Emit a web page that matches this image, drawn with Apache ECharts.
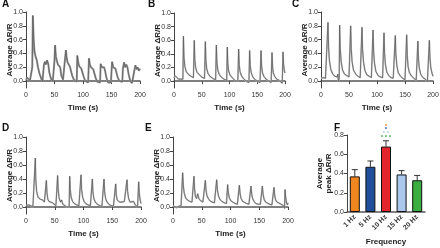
<!doctype html>
<html>
<head>
<meta charset="utf-8">
<title>Average dR/R traces</title>
<script src="https://cdn.jsdelivr.net/npm/echarts@6/dist/echarts.min.js"></script>
<style>
  html, body { margin: 0; padding: 0; background: #fff; }
  #main { width: 440px; height: 248px; }
</style>
</head>
<body>
<div id="main"></div>
<script>
// traces: [time (s), average dR/R]
var traceA = [
  [0,0.02],[2,0.05],[4,0.04],[7,0.01],[10,0.0],[11,0.2],[12,0.95],[13.5,0.6],[15,0.42],[17,0.35],[19,0.3],[21,0.2],[24,0.1],[27,0.03],[29,0.0],
  [30,0.1],[31.5,0.24],[33,0.28],[35,0.24],[37,0.3],[39,0.25],[41,0.12],[44,0.03],[47,0.0],[49,0.0],
  [50,0.3],[51,0.52],[52.5,0.35],[54,0.3],[56,0.24],[58,0.26],[60,0.2],[62,0.08],[65,0.02],[68,0.0],
  [70,0.45],[71.5,0.33],[73,0.27],[75,0.25],[77,0.21],[79,0.22],[81,0.08],[84,0.02],[87,0.0],[89,-0.01],
  [90,0.37],[91.5,0.28],[93,0.22],[95,0.23],[97,0.18],[99,0.2],[101,0.07],[104,0.0],[107,-0.02],[109,-0.02],
  [110.5,0.33],[112,0.24],[114,0.2],[116,0.22],[118,0.17],[120,0.16],[122,0.05],[125,-0.01],[128,-0.03],[130,-0.02],
  [131,0.25],[133,0.2],[135,0.18],[137,0.2],[139,0.14],[141,0.05],[144,-0.02],[147,-0.03],[149,-0.02],
  [151,0.28],[153,0.2],[155,0.22],[157,0.18],[159,0.16],[161,0.05],[164,0.0],[167,-0.02],[169,-0.01],
  [170,0.18],[172,0.27],[174,0.2],[176,0.24],[178,0.2],[180,0.1],[183,0.0],[186,-0.03],[188,-0.02],
  [190,0.15],[192,0.23],[194,0.17],[196,0.2],[198,0.15],[200,0.18]
];
var traceB = [
  [0,0.05],[2,0.08],[4,0.06],[8,0.03],[12,0.03],[16,0.03],
  [17,0.66],[18,0.35],[19.5,0.22],[22,0.14],[26,0.1],[31,0.07],[35,0.05],
  [36.5,0.6],[37.5,0.32],[39,0.2],[41.5,0.13],[45,0.1],[50,0.06],[55,0.04],
  [56.5,0.58],[57.5,0.3],[59,0.18],[61.5,0.11],[65,0.07],[70,0.04],[75,0.02],
  [76.3,0.53],[77.3,0.28],[79,0.16],[81.5,0.1],[85,0.06],[90,0.03],[95,0.01],
  [96,0.5],[97,0.26],[98.5,0.15],[101,0.09],[105,0.05],[110,0.01],[115,0.0],
  [116.5,0.47],[117.5,0.24],[119,0.14],[121.5,0.08],[125,0.04],[130,0.0],[135,-0.02],
  [136.3,0.45],[137.3,0.23],[139,0.13],[141.5,0.07],[145,0.03],[150,0.0],[155,-0.02],
  [156.8,0.45],[157.8,0.22],[159.5,0.12],[162,0.07],[166,0.03],[171,0.0],[175,-0.02],
  [176.6,0.42],[177.6,0.21],[179,0.12],[181.5,0.07],[185,0.03],[190,0.01],[195,-0.03],
  [196.4,0.43],[197.4,0.25],[199,0.15],[200,0.12]
];
var traceC = [
  [0,0.04],[4,0.05],[8,0.04],[11,0.03],
  [12.5,0.85],[13.5,0.5],[15,0.3],[17.5,0.17],[21,0.1],[25,0.07],[29,0.06],[30,0.1],[31,0.0],[32.5,0.04],
  [33.3,0.81],[34.3,0.48],[36,0.28],[38.5,0.16],[42,0.1],[46,0.08],[50,0.06],[52,0.05],
  [53,0.8],[54,0.47],[55.5,0.28],[58,0.16],[62,0.1],[66,0.07],[70,0.05],[72,0.04],
  [73.2,0.78],[74.2,0.46],[76,0.27],[78.5,0.15],[82,0.09],[86,0.07],[90,0.05],[92,0.04],
  [92.9,0.74],[94,0.43],[95.5,0.26],[98,0.14],[102,0.08],[106,0.06],[110,0.05],[111.5,0.04],
  [112.5,0.7],[113.5,0.41],[115,0.24],[117.5,0.13],[121,0.08],[125,0.05],[129,0.04],[131.5,0.03],
  [132.7,0.66],[133.7,0.39],[135.5,0.22],[138,0.12],[142,0.07],[146,0.04],[150,0.02],[152,0.02],
  [153,0.67],[154,0.38],[155.5,0.21],[158,0.12],[162,0.07],[166,0.04],[170,0.01],[172,0.0],
  [173,0.58],[174,0.33],[175.5,0.19],[178,0.1],[182,0.05],[186,0.03],[190,-0.01],[192.5,-0.02],
  [193.5,0.59],[194.5,0.35],[196,0.2],[198,0.12],[200,0.07]
];
var traceD = [
  [0,0.02],[4,0.03],[8,0.02],[12,0.0],[15,0.0],
  [16.2,0.7],[17,0.4],[18.5,0.22],[21,0.14],[25,0.11],[29,0.1],[32,0.07],[34.5,0.05],
  [35.4,0.38],[36.5,0.2],[38,0.11],[40,0.08],[43,0.09],[46,0.06],[49,0.05],[52,0.02],[54,0.0],
  [55,0.45],[56,0.25],[57.5,0.13],[60,0.07],[62,0.1],[64,0.04],[67,0.03],[71,0.0],[75,0.0],
  [76,0.44],[77,0.24],[78.5,0.14],[81,0.08],[84,0.05],[88,0.03],[92,0.02],[95,0.01],
  [95.7,0.46],[96.7,0.25],[98.5,0.14],[101,0.08],[104,0.05],[108,0.03],[112,0.02],[114.5,0.02],
  [115.4,0.4],[116.4,0.22],[118,0.12],[120.5,0.07],[124,0.04],[128,0.02],[132,0.01],[135,0.01],
  [135.7,0.4],[136.7,0.22],[138.5,0.12],[141,0.07],[144,0.04],[148,0.02],[152,0.01],[155,0.0],
  [156,0.33],[157,0.18],[158.5,0.1],[160,0.08],[163,0.07],[167,0.07],[171,0.08],[174,0.06],
  [175.7,0.39],[176.7,0.22],[178.5,0.12],[181,0.07],[184,0.05],[187,0.08],[190,0.03],[194,0.0],[195,0.0],
  [196,0.36],[197,0.2],[198.5,0.1],[200,0.05]
];
var traceE = [
  [0,0.02],[3,0.0],[6,-0.01],[10,0.01],[14,0.02],[16,0.04],
  [16.8,0.49],[18,0.3],[19.5,0.2],[22,0.13],[25,0.1],[29,0.08],[33,0.07],[35.5,0.08],
  [36.5,0.44],[37.5,0.26],[39,0.15],[41,0.12],[43,0.19],[45,0.12],[48,0.09],[52,0.07],[55,0.06],
  [56.2,0.38],[57.5,0.24],[59,0.16],[61.5,0.12],[64,0.09],[68,0.07],[72,0.06],[75,0.06],
  [76,0.39],[77.3,0.24],[79,0.16],[81.5,0.11],[85,0.08],[89,0.06],[93,0.05],[94.5,0.05],
  [95,0.32],[96.3,0.2],[98,0.13],[100.5,0.09],[104,0.07],[108,0.05],[112,0.04],[114.5,0.04],
  [115.4,0.31],[116.7,0.19],[118.5,0.12],[121,0.08],[124,0.06],[128,0.05],[132,0.04],[135,0.03],
  [135.7,0.3],[137,0.18],[138.5,0.12],[141,0.08],[144,0.05],[148,0.04],[152,0.04],[154.5,0.03],
  [155.4,0.3],[156.7,0.18],[158.5,0.11],[161,0.07],[164,0.05],[168,0.04],[172,0.03],[175,0.03],
  [175.7,0.28],[177,0.16],[178.5,0.1],[181,0.07],[184,0.05],[188,0.04],[192,0.02],[194,-0.02],
  [194.8,0.25],[196,0.14],[197.5,0.06],[199,0.03],[200,0.06]
];

// panel F
var freqs = ['1 Hz', '5 Hz', '10 Hz', '15 Hz', '20 Hz'];
var peakMean = [0.37, 0.47, 0.68, 0.39, 0.33];
var peakErr = [0.07, 0.06, 0.06, 0.04, 0.05];
var barColors = ['#f0861f', '#1f4e9a', '#e3262b', '#a9c8ec', '#3aae3f'];
// significance marks over 10 Hz
var starText = ['*', '*', '* *', '* * *'];
var starLevel = [0.885, 0.855, 0.815, 0.78];
var starColor = ['#f0861f', '#1f4e9a', '#a9c8ec', '#3aae3f'];

var ratioTicks = [0, 0.2, 0.4, 0.6, 0.8, 1.0];

var FONT = 'Liberation Sans';
var AX = '#444';

var panels = [
  { label: 'A', data: traceA, grid: { left: 26, top: 12, width: 114, height: 76 }, band: 2, bandColor: '#999' },
  { label: 'B', data: traceB, grid: { left: 174, top: 13, width: 111, height: 75 }, band: 1.6, bandColor: '#bbb' },
  { label: 'C', data: traceC, grid: { left: 321, top: 12, width: 112, height: 76 }, band: 1.6, bandColor: '#bbb' },
  { label: 'D', data: traceD, grid: { left: 26, top: 137, width: 115, height: 77 }, band: 1.6, bandColor: '#bbb' },
  { label: 'E', data: traceE, grid: { left: 173, top: 137, width: 115, height: 77 }, band: 1.6, bandColor: '#bbb' }
];

var grids = [], xAxes = [], yAxes = [], series = [];

panels.forEach(function (p, i) {
  grids.push(Object.assign({ outerBoundsMode: 'none' }, p.grid));
  xAxes.push({
    gridIndex: i, type: 'value', min: 0, max: 200, interval: 50,
    name: 'Time (s)', nameLocation: 'middle', nameGap: 16, nameMoveOverlap: false,
    nameTextStyle: { fontFamily: FONT, fontSize: 8, fontWeight: 'bold', color: '#222' },
    axisLine: { lineStyle: { color: '#555', width: 1.5 } },
    axisTick: { length: 3, lineStyle: { color: AX } },
    axisLabel: { fontFamily: FONT, fontSize: 7, color: '#333', margin: 4 },
    splitLine: { show: false }
  });
  yAxes.push({
    gridIndex: i, type: 'value', min: -0.1, max: 1.0,
    name: 'Average ΔR/R', nameLocation: 'middle', nameGap: 12, nameMoveOverlap: false,
    nameTextStyle: { fontFamily: FONT, fontSize: 8, fontWeight: 'bold', color: '#222' },
    axisLine: { show: true, lineStyle: { color: AX } },
    axisTick: { show: true, length: 3, customValues: ratioTicks, lineStyle: { color: AX } },
    axisLabel: { fontFamily: FONT, fontSize: 7, color: '#333', margin: 3,
      customValues: ratioTicks, formatter: function (v) { return v.toFixed(1); } },
    splitLine: { show: false }
  });
  // grey SEM envelope under the mean trace
  series.push({
    type: 'line', xAxisIndex: i, yAxisIndex: i, data: p.data,
    showSymbol: false, silent: true,
    lineStyle: { color: p.bandColor, width: p.band }
  });
  series.push({
    type: 'line', xAxisIndex: i, yAxisIndex: i, data: p.data,
    showSymbol: false,
    lineStyle: { color: '#555', width: 0.7 }
  });
});

// bar panel
var fi = panels.length;
grids.push({ left: 347, top: 135, width: 78, height: 77, outerBoundsMode: 'none' });
xAxes.push({
  gridIndex: fi, type: 'category', data: freqs,
  name: 'Frequency', nameLocation: 'middle', nameGap: 26, nameMoveOverlap: false,
  nameTextStyle: { fontFamily: FONT, fontSize: 8, fontWeight: 'bold', color: '#222' },
  axisLine: { lineStyle: { color: '#555', width: 1.5 } },
  axisTick: { alignWithLabel: true, length: 3, lineStyle: { color: AX } },
  axisLabel: { fontFamily: FONT, fontSize: 7, fontWeight: 'bold', color: '#333', rotate: 45, margin: 4 }
});
yAxes.push({
  gridIndex: fi, type: 'value', min: 0, max: 0.8, interval: 0.2,
  name: 'Average\npeak ΔR/R', nameLocation: 'middle', nameGap: 14, nameMoveOverlap: false,
  nameTextStyle: { fontFamily: FONT, fontSize: 8, fontWeight: 'bold', color: '#222', lineHeight: 9 },
  axisLine: { show: true, lineStyle: { color: AX } },
  axisTick: { show: true, length: 3, lineStyle: { color: AX } },
  axisLabel: { fontFamily: FONT, fontSize: 7, color: '#333', margin: 3,
    formatter: function (v) { return v.toFixed(1); } },
  splitLine: { show: false }
});

series.push({
  type: 'custom', xAxisIndex: fi, yAxisIndex: fi, z: 1,
  data: freqs.map(function (f, k) { return [k, peakMean[k], peakMean[k] + peakErr[k]]; }),
  renderItem: function (params, api) {
    var c = api.coord([api.value(0), api.value(1)]);
    var t = api.coord([api.value(0), api.value(2)]);
    return {
      type: 'group', children: [
        { type: 'line', shape: { x1: c[0], y1: c[1], x2: t[0], y2: t[1] }, style: { stroke: '#333', lineWidth: 1 } },
        { type: 'line', shape: { x1: t[0] - 3, y1: t[1], x2: t[0] + 3, y2: t[1] }, style: { stroke: '#333', lineWidth: 1 } }
      ]
    };
  }
});
series.push({
  type: 'bar', xAxisIndex: fi, yAxisIndex: fi, barWidth: 10, z: 2,
  data: peakMean.map(function (v, k) {
    return { value: v, itemStyle: { color: barColors[k], borderColor: '#111', borderWidth: 1 } };
  })
});
series.push({
  type: 'custom', xAxisIndex: fi, yAxisIndex: fi, clip: false, z: 3,
  data: starText.map(function (s, k) { return [2, starLevel[k], k]; }),
  renderItem: function (params, api) {
    var k = api.value(2);
    var p = api.coord([api.value(0), api.value(1)]);
    return {
      type: 'text', x: p[0], y: p[1],
      style: { text: starText[k], fill: starColor[k], fontSize: 6, fontFamily: FONT,
        fontWeight: 'bold', align: 'center', verticalAlign: 'middle' }
    };
  }
});

var titleStyle = { fontFamily: FONT, fontSize: 10, fontWeight: 'bold', color: '#111' };
var option = {
  animation: false,
  backgroundColor: '#fff',
  title: [
    { text: 'A', left: 2, top: -1, textStyle: titleStyle, padding: 0 },
    { text: 'B', left: 148, top: -1, textStyle: titleStyle, padding: 0 },
    { text: 'C', left: 292, top: -1, textStyle: titleStyle, padding: 0 },
    { text: 'D', left: 2, top: 123, textStyle: titleStyle, padding: 0 },
    { text: 'E', left: 145, top: 123, textStyle: titleStyle, padding: 0 },
    { text: 'F', left: 334, top: 123, textStyle: titleStyle, padding: 0 }
  ],
  grid: grids,
  xAxis: xAxes,
  yAxis: yAxes,
  series: series
};

var myChart = echarts.init(document.getElementById('main'), null, { renderer: 'canvas' });
myChart.setOption(option);
</script>
</body>
</html>
